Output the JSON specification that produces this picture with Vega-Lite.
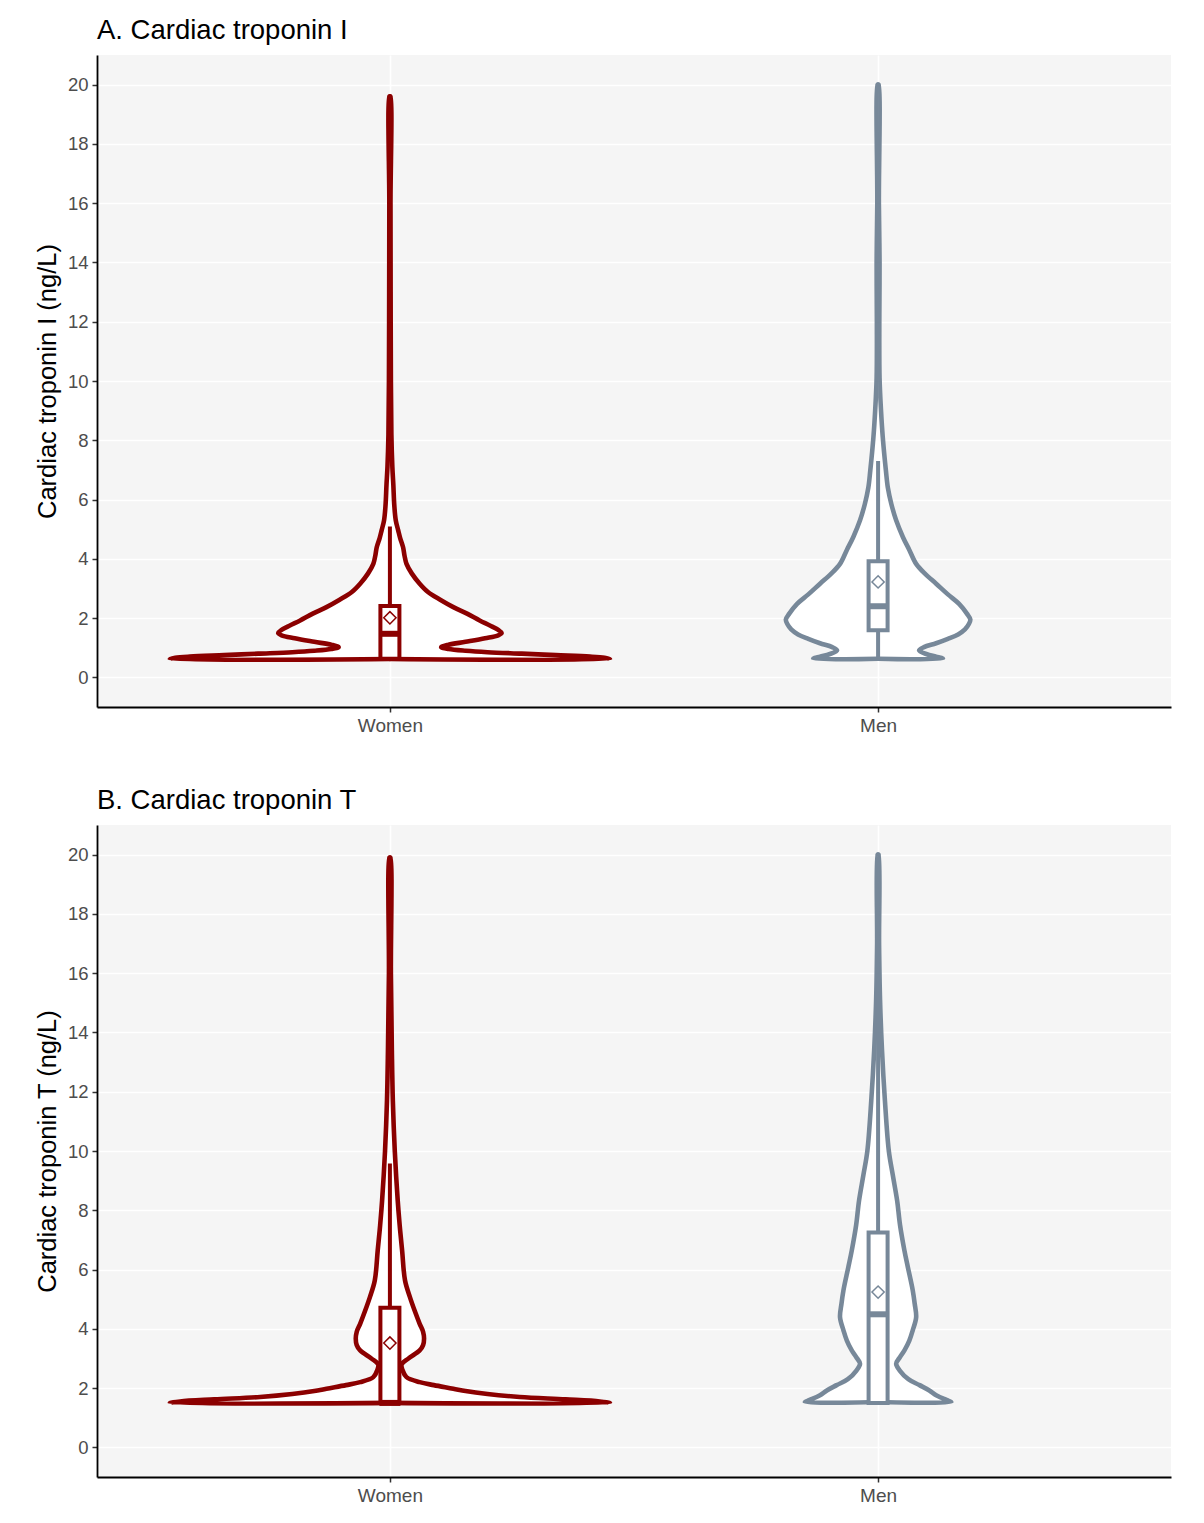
{
  "$schema": "https://vega.github.io/schema/vega-lite/v6.json",
  "background": "white",
  "padding": {"left": 35, "top": 16, "right": 5, "bottom": 5},
  "spacing": 51,
  "datasets": {
    "violin": [
      {"p":"A","s":"Women","i":0,"y":0.62,"w":0},
      {"p":"A","s":"Women","i":1,"y":0.62,"w":0.451},
      {"p":"A","s":"Women","i":2,"y":0.66,"w":0.44},
      {"p":"A","s":"Women","i":3,"y":0.70,"w":0.41},
      {"p":"A","s":"Women","i":4,"y":0.75,"w":0.34},
      {"p":"A","s":"Women","i":5,"y":0.80,"w":0.27},
      {"p":"A","s":"Women","i":6,"y":0.85,"w":0.20},
      {"p":"A","s":"Women","i":7,"y":0.90,"w":0.155},
      {"p":"A","s":"Women","i":8,"y":0.96,"w":0.12},
      {"p":"A","s":"Women","i":9,"y":1.02,"w":0.105},
      {"p":"A","s":"Women","i":10,"y":1.10,"w":0.12},
      {"p":"A","s":"Women","i":11,"y":1.20,"w":0.155},
      {"p":"A","s":"Women","i":12,"y":1.32,"w":0.195},
      {"p":"A","s":"Women","i":13,"y":1.42,"w":0.222},
      {"p":"A","s":"Women","i":14,"y":1.50,"w":0.229},
      {"p":"A","s":"Women","i":15,"y":1.60,"w":0.222},
      {"p":"A","s":"Women","i":16,"y":1.75,"w":0.205},
      {"p":"A","s":"Women","i":17,"y":1.92,"w":0.184},
      {"p":"A","s":"Women","i":18,"y":2.15,"w":0.158},
      {"p":"A","s":"Women","i":19,"y":2.37,"w":0.130},
      {"p":"A","s":"Women","i":20,"y":2.62,"w":0.103},
      {"p":"A","s":"Women","i":21,"y":2.88,"w":0.078},
      {"p":"A","s":"Women","i":22,"y":3.16,"w":0.061},
      {"p":"A","s":"Women","i":23,"y":3.50,"w":0.045},
      {"p":"A","s":"Women","i":24,"y":3.83,"w":0.034},
      {"p":"A","s":"Women","i":25,"y":4.10,"w":0.030},
      {"p":"A","s":"Women","i":26,"y":4.39,"w":0.027},
      {"p":"A","s":"Women","i":27,"y":4.70,"w":0.021},
      {"p":"A","s":"Women","i":28,"y":4.96,"w":0.017},
      {"p":"A","s":"Women","i":29,"y":5.30,"w":0.012},
      {"p":"A","s":"Women","i":30,"y":5.80,"w":0.009},
      {"p":"A","s":"Women","i":31,"y":6.50,"w":0.007},
      {"p":"A","s":"Women","i":32,"y":7.10,"w":0.005},
      {"p":"A","s":"Women","i":33,"y":8.20,"w":0.003},
      {"p":"A","s":"Women","i":34,"y":10.0,"w":0.002},
      {"p":"A","s":"Women","i":35,"y":13.0,"w":0.0015},
      {"p":"A","s":"Women","i":36,"y":16.0,"w":0.0012},
      {"p":"A","s":"Women","i":37,"y":19.6,"w":0.001},
      {"p":"A","s":"Women","i":38,"y":19.6,"w":0},

      {"p":"A","s":"Men","i":0,"y":0.63,"w":0},
      {"p":"A","s":"Men","i":1,"y":0.63,"w":0.133},
      {"p":"A","s":"Men","i":2,"y":0.70,"w":0.119},
      {"p":"A","s":"Men","i":3,"y":0.78,"w":0.100},
      {"p":"A","s":"Men","i":4,"y":0.91,"w":0.084},
      {"p":"A","s":"Men","i":5,"y":1.02,"w":0.094},
      {"p":"A","s":"Men","i":6,"y":1.15,"w":0.119},
      {"p":"A","s":"Men","i":7,"y":1.30,"w":0.143},
      {"p":"A","s":"Men","i":8,"y":1.45,"w":0.164},
      {"p":"A","s":"Men","i":9,"y":1.62,"w":0.178},
      {"p":"A","s":"Men","i":10,"y":1.80,"w":0.186},
      {"p":"A","s":"Men","i":11,"y":1.95,"w":0.189},
      {"p":"A","s":"Men","i":12,"y":2.15,"w":0.182},
      {"p":"A","s":"Men","i":13,"y":2.48,"w":0.166},
      {"p":"A","s":"Men","i":14,"y":2.80,"w":0.143},
      {"p":"A","s":"Men","i":15,"y":3.16,"w":0.119},
      {"p":"A","s":"Men","i":16,"y":3.50,"w":0.096},
      {"p":"A","s":"Men","i":17,"y":3.83,"w":0.078},
      {"p":"A","s":"Men","i":18,"y":4.30,"w":0.064},
      {"p":"A","s":"Men","i":19,"y":4.73,"w":0.051},
      {"p":"A","s":"Men","i":20,"y":5.30,"w":0.037},
      {"p":"A","s":"Men","i":21,"y":5.86,"w":0.027},
      {"p":"A","s":"Men","i":22,"y":6.40,"w":0.020},
      {"p":"A","s":"Men","i":23,"y":6.98,"w":0.016},
      {"p":"A","s":"Men","i":24,"y":8.10,"w":0.0096},
      {"p":"A","s":"Men","i":25,"y":9.00,"w":0.006},
      {"p":"A","s":"Men","i":26,"y":10.1,"w":0.003},
      {"p":"A","s":"Men","i":27,"y":12.0,"w":0.0025},
      {"p":"A","s":"Men","i":28,"y":14.0,"w":0.003},
      {"p":"A","s":"Men","i":29,"y":16.0,"w":0.0016},
      {"p":"A","s":"Men","i":30,"y":20.0,"w":0.001},
      {"p":"A","s":"Men","i":31,"y":20.0,"w":0},

      {"p":"B","s":"Women","i":0,"y":1.50,"w":0},
      {"p":"B","s":"Women","i":1,"y":1.50,"w":0.451},
      {"p":"B","s":"Women","i":2,"y":1.55,"w":0.43},
      {"p":"B","s":"Women","i":3,"y":1.62,"w":0.36},
      {"p":"B","s":"Women","i":4,"y":1.70,"w":0.266},
      {"p":"B","s":"Women","i":5,"y":1.80,"w":0.20},
      {"p":"B","s":"Women","i":6,"y":1.90,"w":0.155},
      {"p":"B","s":"Women","i":7,"y":1.98,"w":0.130},
      {"p":"B","s":"Women","i":8,"y":2.10,"w":0.09},
      {"p":"B","s":"Women","i":9,"y":2.20,"w":0.061},
      {"p":"B","s":"Women","i":10,"y":2.37,"w":0.034},
      {"p":"B","s":"Women","i":11,"y":2.60,"w":0.026},
      {"p":"B","s":"Women","i":12,"y":2.80,"w":0.024},
      {"p":"B","s":"Women","i":13,"y":3.00,"w":0.038},
      {"p":"B","s":"Women","i":14,"y":3.27,"w":0.061},
      {"p":"B","s":"Women","i":15,"y":3.45,"w":0.068},
      {"p":"B","s":"Women","i":16,"y":3.67,"w":0.070},
      {"p":"B","s":"Women","i":17,"y":3.90,"w":0.068},
      {"p":"B","s":"Women","i":18,"y":4.17,"w":0.061},
      {"p":"B","s":"Women","i":19,"y":4.60,"w":0.051},
      {"p":"B","s":"Women","i":20,"y":5.07,"w":0.041},
      {"p":"B","s":"Women","i":21,"y":5.63,"w":0.031},
      {"p":"B","s":"Women","i":22,"y":6.64,"w":0.025},
      {"p":"B","s":"Women","i":23,"y":7.50,"w":0.020},
      {"p":"B","s":"Women","i":24,"y":8.33,"w":0.016},
      {"p":"B","s":"Women","i":25,"y":10.0,"w":0.010},
      {"p":"B","s":"Women","i":26,"y":11.7,"w":0.006},
      {"p":"B","s":"Women","i":27,"y":13.4,"w":0.004},
      {"p":"B","s":"Women","i":28,"y":16.0,"w":0.002},
      {"p":"B","s":"Women","i":29,"y":19.9,"w":0.001},
      {"p":"B","s":"Women","i":30,"y":19.9,"w":0},

      {"p":"B","s":"Men","i":0,"y":1.53,"w":0},
      {"p":"B","s":"Men","i":1,"y":1.53,"w":0.150},
      {"p":"B","s":"Men","i":2,"y":1.60,"w":0.14},
      {"p":"B","s":"Men","i":3,"y":1.75,"w":0.12},
      {"p":"B","s":"Men","i":4,"y":1.92,"w":0.105},
      {"p":"B","s":"Men","i":5,"y":2.10,"w":0.085},
      {"p":"B","s":"Men","i":6,"y":2.30,"w":0.062},
      {"p":"B","s":"Men","i":7,"y":2.60,"w":0.044},
      {"p":"B","s":"Men","i":8,"y":2.82,"w":0.037},
      {"p":"B","s":"Men","i":9,"y":3.05,"w":0.045},
      {"p":"B","s":"Men","i":10,"y":3.27,"w":0.054},
      {"p":"B","s":"Men","i":11,"y":3.60,"w":0.064},
      {"p":"B","s":"Men","i":12,"y":3.95,"w":0.071},
      {"p":"B","s":"Men","i":13,"y":4.39,"w":0.078},
      {"p":"B","s":"Men","i":14,"y":4.85,"w":0.075},
      {"p":"B","s":"Men","i":15,"y":5.30,"w":0.071},
      {"p":"B","s":"Men","i":16,"y":6.08,"w":0.061},
      {"p":"B","s":"Men","i":17,"y":6.64,"w":0.054},
      {"p":"B","s":"Men","i":18,"y":7.50,"w":0.045},
      {"p":"B","s":"Men","i":19,"y":8.33,"w":0.039},
      {"p":"B","s":"Men","i":20,"y":9.20,"w":0.030},
      {"p":"B","s":"Men","i":21,"y":10.0,"w":0.022},
      {"p":"B","s":"Men","i":22,"y":11.7,"w":0.014},
      {"p":"B","s":"Men","i":23,"y":13.4,"w":0.008},
      {"p":"B","s":"Men","i":24,"y":15.1,"w":0.004},
      {"p":"B","s":"Men","i":25,"y":17.0,"w":0.002},
      {"p":"B","s":"Men","i":26,"y":20.0,"w":0.001},
      {"p":"B","s":"Men","i":27,"y":20.0,"w":0}
    ],
    "box": [
      {"p":"A","s":"Women","lo":0.63,"q1":0.63,"med":1.47,"q3":2.41,"hi":5.09,"mean":2.01},
      {"p":"A","s":"Men","lo":0.63,"q1":1.59,"med":2.40,"q3":3.92,"hi":7.30,"mean":3.22},
      {"p":"B","s":"Women","lo":1.5,"q1":1.5,"med":1.5,"q3":4.71,"hi":9.58,"mean":3.52},
      {"p":"B","s":"Men","lo":1.5,"q1":1.5,"med":4.49,"q3":7.25,"hi":15.8,"mean":5.24}
    ]
  },
  "vconcat": [
    {
      "title": "A. Cardiac troponin I",
      "width": 1074,
      "height": 652,
      "resolve": {"scale": {"xOffset": "independent"}},
      "layer": [
        {
          "data": {"name": "violin"},
          "transform": [{"filter": "datum.p === 'A'"}],
          "mark": {"type": "line", "fill": "white", "strokeWidth": 4.6, "interpolate": "catmull-rom", "strokeJoin": "round", "strokeCap": "round"},
          "encoding": {
            "x": {"field": "s", "type": "nominal", "scale": {"type": "point", "padding": 0.6, "domain": ["Women", "Men"]}, "title": null},
            "xOffset": {"field": "w", "type": "quantitative", "scale": {"domain": [0, 1], "range": [0, 488]}},
            "y": {"field": "y", "type": "quantitative", "scale": {"domain": [-1, 21], "nice": false, "zero": false}, "title": "Cardiac troponin I (ng/L)",
                  "axis": {"values": [0,1,2,3,4,5,6,7,8,9,10,11,12,13,14,15,16,17,18,19,20], "labelExpr": "datum.value % 2 === 0 ? datum.label : ''", "tickOpacity": {"condition": {"test": "datum.value % 2 === 1", "value": 0}, "value": 1}, "gridWidth": {"condition": {"test": "datum.value % 2 === 1", "value": 0.8}, "value": 1.6}}},
            "order": {"field": "i", "type": "quantitative"},
            "stroke": {"field": "s", "type": "nominal", "scale": {"domain": ["Women", "Men"], "range": ["#8B0000", "#778899"]}, "legend": null}
          }
        },
        {
          "data": {"name": "violin"},
          "transform": [{"filter": "datum.p === 'A'"}],
          "mark": {"type": "line", "fill": "white", "strokeWidth": 4.6, "interpolate": "catmull-rom", "strokeJoin": "round", "strokeCap": "round"},
          "encoding": {
            "x": {"field": "s", "type": "nominal", "scale": {"type": "point", "padding": 0.6, "domain": ["Women", "Men"]}, "title": null},
            "xOffset": {"field": "w", "type": "quantitative", "scale": {"domain": [0, 1], "range": [0, -488]}},
            "y": {"field": "y", "type": "quantitative", "scale": {"domain": [-1, 21], "nice": false, "zero": false}, "title": "Cardiac troponin I (ng/L)"},
            "order": {"field": "i", "type": "quantitative"},
            "stroke": {"field": "s", "type": "nominal", "scale": {"domain": ["Women", "Men"], "range": ["#8B0000", "#778899"]}, "legend": null}
          }
        },
        {
          "data": {"name": "box"},
          "transform": [{"filter": "datum.p === 'A'"}],
          "mark": {"type": "rule", "strokeWidth": 4},
          "encoding": {
            "x": {"field": "s", "type": "nominal", "scale": {"type": "point", "padding": 0.6, "domain": ["Women", "Men"]}, "title": null},
            "y": {"field": "lo", "type": "quantitative", "scale": {"domain": [-1, 21], "nice": false, "zero": false}, "title": "Cardiac troponin I (ng/L)"},
            "y2": {"field": "hi"},
            "stroke": {"field": "s", "type": "nominal", "scale": {"domain": ["Women", "Men"], "range": ["#8B0000", "#778899"]}, "legend": null}
          }
        },
        {
          "data": {"name": "box"},
          "transform": [{"filter": "datum.p === 'A'"}],
          "mark": {"type": "bar", "width": 19, "fill": "white", "strokeWidth": 4},
          "encoding": {
            "x": {"field": "s", "type": "nominal", "scale": {"type": "point", "padding": 0.6, "domain": ["Women", "Men"]}, "title": null},
            "y": {"field": "q1", "type": "quantitative", "scale": {"domain": [-1, 21], "nice": false, "zero": false}, "title": "Cardiac troponin I (ng/L)"},
            "y2": {"field": "q3"},
            "stroke": {"field": "s", "type": "nominal", "scale": {"domain": ["Women", "Men"], "range": ["#8B0000", "#778899"]}, "legend": null}
          }
        },
        {
          "data": {"name": "box"},
          "transform": [{"filter": "datum.p === 'A'"}],
          "mark": {"type": "tick", "size": 21, "thickness": 6, "opacity": 1},
          "encoding": {
            "x": {"field": "s", "type": "nominal", "scale": {"type": "point", "padding": 0.6, "domain": ["Women", "Men"]}, "title": null},
            "y": {"field": "med", "type": "quantitative", "scale": {"domain": [-1, 21], "nice": false, "zero": false}, "title": "Cardiac troponin I (ng/L)"},
            "fill": {"field": "s", "type": "nominal", "scale": {"domain": ["Women", "Men"], "range": ["#8B0000", "#778899"]}, "legend": null}
          }
        },
        {
          "data": {"name": "box"},
          "transform": [{"filter": "datum.p === 'A'"}],
          "mark": {"type": "point", "shape": "diamond", "size": 150, "filled": false, "fill": "white", "fillOpacity": 1, "strokeWidth": 1.5, "opacity": 1},
          "encoding": {
            "x": {"field": "s", "type": "nominal", "scale": {"type": "point", "padding": 0.6, "domain": ["Women", "Men"]}, "title": null},
            "y": {"field": "mean", "type": "quantitative", "scale": {"domain": [-1, 21], "nice": false, "zero": false}, "title": "Cardiac troponin I (ng/L)"},
            "stroke": {"field": "s", "type": "nominal", "scale": {"domain": ["Women", "Men"], "range": ["#8B0000", "#778899"]}, "legend": null}
          }
        }
      ]
    },
    {
      "title": "B. Cardiac troponin T",
      "width": 1074,
      "height": 652,
      "resolve": {"scale": {"xOffset": "independent"}},
      "layer": [
        {
          "data": {"name": "violin"},
          "transform": [{"filter": "datum.p === 'B'"}],
          "mark": {"type": "line", "fill": "white", "strokeWidth": 4.6, "interpolate": "catmull-rom", "strokeJoin": "round", "strokeCap": "round"},
          "encoding": {
            "x": {"field": "s", "type": "nominal", "scale": {"type": "point", "padding": 0.6, "domain": ["Women", "Men"]}, "title": null},
            "xOffset": {"field": "w", "type": "quantitative", "scale": {"domain": [0, 1], "range": [0, 488]}},
            "y": {"field": "y", "type": "quantitative", "scale": {"domain": [-1, 21], "nice": false, "zero": false}, "title": "Cardiac troponin T (ng/L)",
                  "axis": {"values": [0,1,2,3,4,5,6,7,8,9,10,11,12,13,14,15,16,17,18,19,20], "labelExpr": "datum.value % 2 === 0 ? datum.label : ''", "tickOpacity": {"condition": {"test": "datum.value % 2 === 1", "value": 0}, "value": 1}, "gridWidth": {"condition": {"test": "datum.value % 2 === 1", "value": 0.8}, "value": 1.6}}},
            "order": {"field": "i", "type": "quantitative"},
            "stroke": {"field": "s", "type": "nominal", "scale": {"domain": ["Women", "Men"], "range": ["#8B0000", "#778899"]}, "legend": null}
          }
        },
        {
          "data": {"name": "violin"},
          "transform": [{"filter": "datum.p === 'B'"}],
          "mark": {"type": "line", "fill": "white", "strokeWidth": 4.6, "interpolate": "catmull-rom", "strokeJoin": "round", "strokeCap": "round"},
          "encoding": {
            "x": {"field": "s", "type": "nominal", "scale": {"type": "point", "padding": 0.6, "domain": ["Women", "Men"]}, "title": null},
            "xOffset": {"field": "w", "type": "quantitative", "scale": {"domain": [0, 1], "range": [0, -488]}},
            "y": {"field": "y", "type": "quantitative", "scale": {"domain": [-1, 21], "nice": false, "zero": false}, "title": "Cardiac troponin T (ng/L)"},
            "order": {"field": "i", "type": "quantitative"},
            "stroke": {"field": "s", "type": "nominal", "scale": {"domain": ["Women", "Men"], "range": ["#8B0000", "#778899"]}, "legend": null}
          }
        },
        {
          "data": {"name": "box"},
          "transform": [{"filter": "datum.p === 'B'"}],
          "mark": {"type": "rule", "strokeWidth": 4},
          "encoding": {
            "x": {"field": "s", "type": "nominal", "scale": {"type": "point", "padding": 0.6, "domain": ["Women", "Men"]}, "title": null},
            "y": {"field": "lo", "type": "quantitative", "scale": {"domain": [-1, 21], "nice": false, "zero": false}, "title": "Cardiac troponin T (ng/L)"},
            "y2": {"field": "hi"},
            "stroke": {"field": "s", "type": "nominal", "scale": {"domain": ["Women", "Men"], "range": ["#8B0000", "#778899"]}, "legend": null}
          }
        },
        {
          "data": {"name": "box"},
          "transform": [{"filter": "datum.p === 'B'"}],
          "mark": {"type": "bar", "width": 19, "fill": "white", "strokeWidth": 4},
          "encoding": {
            "x": {"field": "s", "type": "nominal", "scale": {"type": "point", "padding": 0.6, "domain": ["Women", "Men"]}, "title": null},
            "y": {"field": "q1", "type": "quantitative", "scale": {"domain": [-1, 21], "nice": false, "zero": false}, "title": "Cardiac troponin T (ng/L)"},
            "y2": {"field": "q3"},
            "stroke": {"field": "s", "type": "nominal", "scale": {"domain": ["Women", "Men"], "range": ["#8B0000", "#778899"]}, "legend": null}
          }
        },
        {
          "data": {"name": "box"},
          "transform": [{"filter": "datum.p === 'B'"}],
          "mark": {"type": "tick", "size": 21, "thickness": 6, "opacity": 1},
          "encoding": {
            "x": {"field": "s", "type": "nominal", "scale": {"type": "point", "padding": 0.6, "domain": ["Women", "Men"]}, "title": null},
            "y": {"field": "med", "type": "quantitative", "scale": {"domain": [-1, 21], "nice": false, "zero": false}, "title": "Cardiac troponin T (ng/L)"},
            "fill": {"field": "s", "type": "nominal", "scale": {"domain": ["Women", "Men"], "range": ["#8B0000", "#778899"]}, "legend": null}
          }
        },
        {
          "data": {"name": "box"},
          "transform": [{"filter": "datum.p === 'B'"}],
          "mark": {"type": "point", "shape": "diamond", "size": 150, "filled": false, "fill": "white", "fillOpacity": 1, "strokeWidth": 1.5, "opacity": 1},
          "encoding": {
            "x": {"field": "s", "type": "nominal", "scale": {"type": "point", "padding": 0.6, "domain": ["Women", "Men"]}, "title": null},
            "y": {"field": "mean", "type": "quantitative", "scale": {"domain": [-1, 21], "nice": false, "zero": false}, "title": "Cardiac troponin T (ng/L)"},
            "stroke": {"field": "s", "type": "nominal", "scale": {"domain": ["Women", "Men"], "range": ["#8B0000", "#778899"]}, "legend": null}
          }
        }
      ]
    }
  ],
  "config": {
    "font": "Liberation Sans",
    "view": {"fill": "#F5F5F5", "stroke": null},
    "axis": {"domainColor": "#000000", "domainWidth": 1.8, "tickColor": "#333333", "tickWidth": 1.5, "tickSize": 5, "labelColor": "#4D4D4D", "labelFontSize": 18.5, "labelFont": "Liberation Sans", "titleFont": "Liberation Sans", "titleFontSize": 25.5, "titleFontWeight": "normal", "titleColor": "#000000", "gridColor": "#FFFFFF", "gridWidth": 1.6, "labelPadding": 4},
    "axisY": {"titlePadding": 7},
    "axisX": {"grid": true, "labelAngle": 0, "labelFontSize": 19},
    "title": {"fontSize": 27.5, "fontWeight": "normal", "anchor": "start", "frame": "group", "color": "#000000", "offset": 11, "font": "Liberation Sans"}
  }
}
